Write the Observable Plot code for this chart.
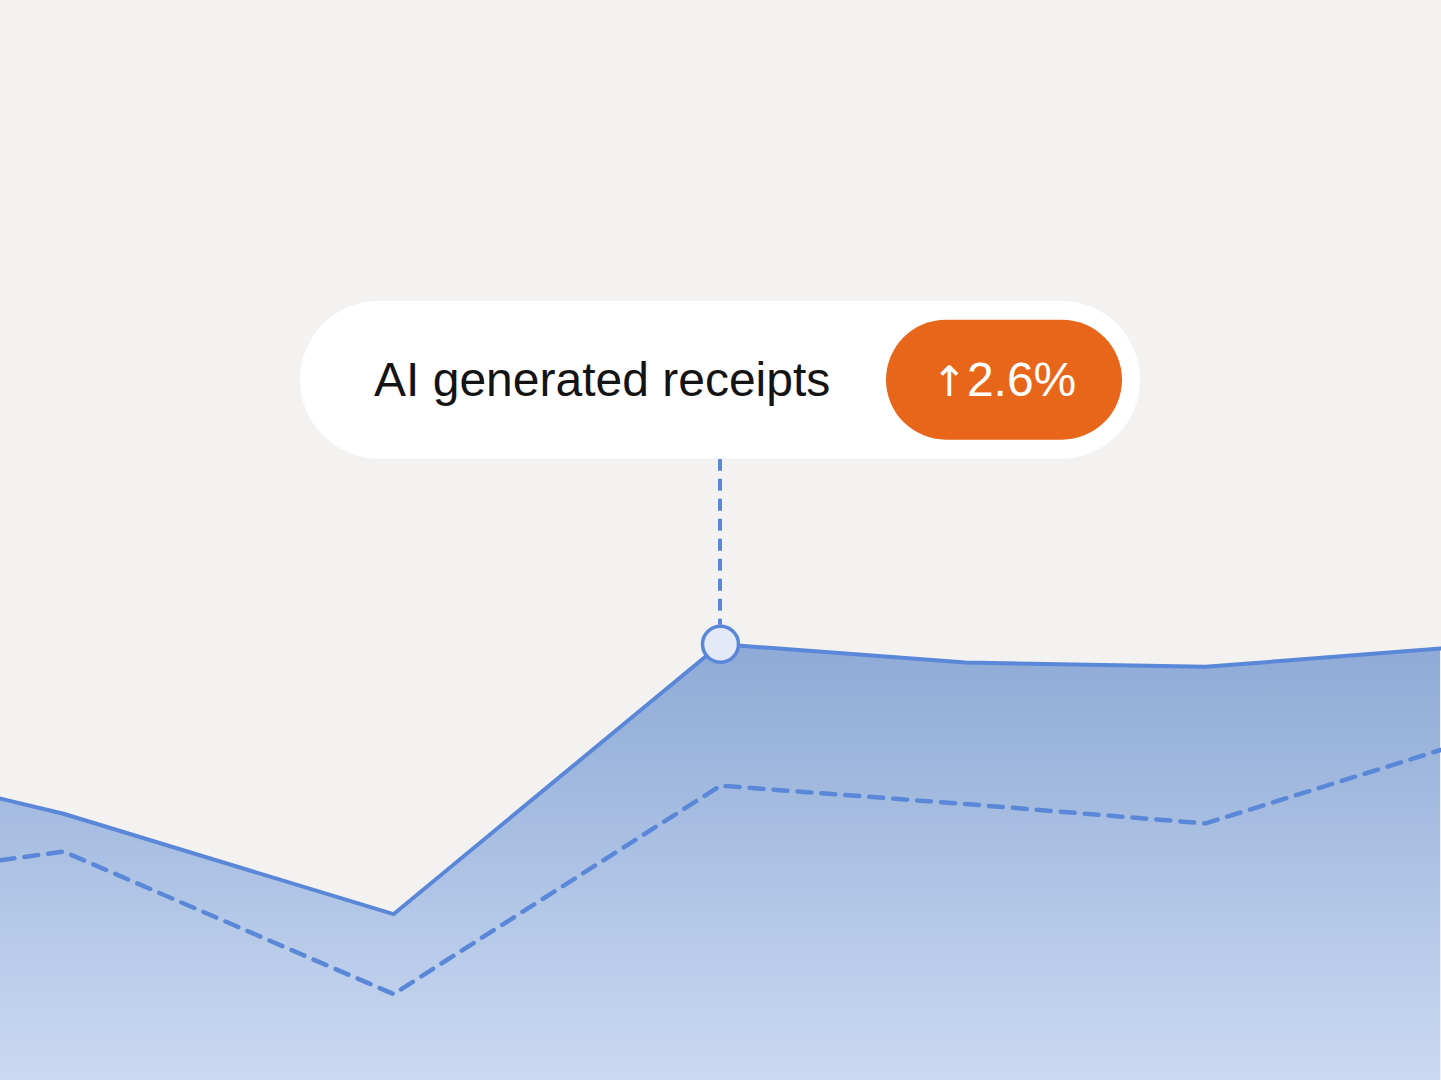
<!DOCTYPE html>
<html>
<head>
<meta charset="utf-8">
<script src="https://cdn.jsdelivr.net/npm/d3@7"></script>
<script src="https://cdn.jsdelivr.net/npm/@observablehq/plot@0.6"></script>
<style>
  html, body { margin: 0; padding: 0; background: #f3f2f0; overflow: hidden; }
  #chart svg { display: block; }
</style>
</head>
<body>
<div id="chart"></div>
<script>
// Time position (weeks) of each observation
const weeks = [0, 0.63, 3.93, 7.2, 9.65, 12.05, 14.4];
// AI generated receipts (solid line, current period)
const currentValues = [26.1, 24.7, 15.4, 40.4, 38.7, 38.3, 40.0];
// Comparison period (dashed line)
const previousValues = [20.4, 21.2, 8.0, 27.3, 25.6, 23.8, 30.6];
const highlightIndex = 3;
const labelText = "AI generated receipts";
const changeArrow = "↑";
const changeText = "2.6%";

const current = weeks.map((w, i) => ({week: w, value: currentValues[i]}));
const previous = weeks.map((w, i) => ({week: w, value: previousValues[i]}));
const peak = current[highlightIndex];

const W = 1441, H = 1080;
const lineColor = "#5b87d9";

const chart = Plot.plot({
  width: W,
  height: H,
  margin: 0,
  style: {background: "#f3f2f0", overflow: "visible"},
  x: {domain: [0, 14.41], axis: null},
  y: {domain: [0, 100], axis: null},
  marks: [
    Plot.areaY(current, {x: "week", y: "value", fill: "url(#areaGrad)"}),
    Plot.lineY(previous, {x: "week", y: "value", stroke: lineColor, strokeWidth: 4.5, strokeDasharray: "14,10", strokeLinejoin: "round"}),
    Plot.lineY(current, {x: "week", y: "value", stroke: lineColor, strokeWidth: 4, strokeLinejoin: "round"}),
    Plot.dot([peak], {x: "week", y: "value", r: 18, fill: "#e3e9f6", stroke: lineColor, strokeWidth: 3.5})
  ]
});

const svg = d3.select(chart);
const grad = svg.insert("defs", ":first-child").append("linearGradient")
  .attr("id", "areaGrad").attr("x1", 0).attr("y1", 0).attr("x2", 0).attr("y2", 1);
grad.append("stop").attr("offset", "0%").attr("stop-color", "#8eaad6");
grad.append("stop").attr("offset", "100%").attr("stop-color", "#cad9f1");

// Tooltip anchored to highlighted point
const px = chart.scale("x").apply(peak.week);
const py = chart.scale("y").apply(peak.value);
const tip = svg.append("g").attr("text-anchor", "start");
tip.append("line")
  .attr("x1", px).attr("x2", px)
  .attr("y1", py - 185).attr("y2", py - 19)
  .attr("stroke", lineColor).attr("stroke-width", 4)
  .attr("stroke-dasharray", "12,8");
const pillW = 840, pillH = 158;
const cy = py - 185 - pillH / 2;
tip.append("rect")
  .attr("x", px - pillW / 2).attr("y", py - 185 - pillH)
  .attr("width", pillW).attr("height", pillH)
  .attr("rx", pillH / 2).attr("fill", "#ffffff");
tip.append("text")
  .attr("x", px - pillW / 2 + 74).attr("y", cy)
  .attr("dy", "0.35em")
  .attr("font-family", "Liberation Sans, Arial, sans-serif")
  .attr("font-size", 48).attr("fill", "#141414")
  .text(labelText);
const badgeW = 236, badgeH = 120;
const bx = px + pillW / 2 - 18 - badgeW;
tip.append("rect")
  .attr("x", bx).attr("y", cy - badgeH / 2)
  .attr("width", badgeW).attr("height", badgeH)
  .attr("rx", badgeH / 2).attr("fill", "#e8661a");
const badgeText = tip.append("text")
  .attr("x", bx + badgeW / 2).attr("y", cy)
  .attr("dy", "0.35em").attr("text-anchor", "middle")
  .attr("font-family", "Liberation Sans, Arial, sans-serif")
  .attr("font-size", 48).attr("fill", "#ffffff");
badgeText.append("tspan").attr("font-family", "DejaVu Sans, sans-serif").attr("font-size", 42).text(changeArrow);
badgeText.append("tspan").text(changeText);

document.getElementById("chart").appendChild(chart);
</script>
</body>
</html>
